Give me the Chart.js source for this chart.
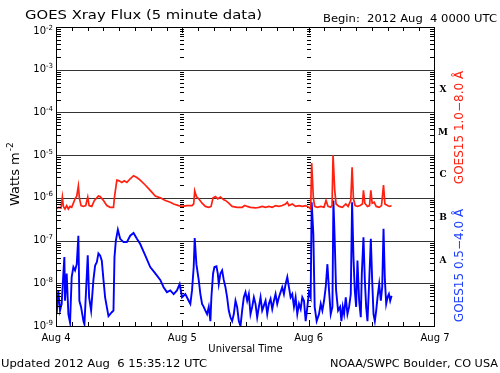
<!DOCTYPE html>
<html>
<head>
<meta charset="utf-8">
<script src="https://cdn.jsdelivr.net/npm/chart.js@4.4.1/dist/chart.umd.min.js"></script>
<style>
  html, body { margin: 0; padding: 0; background: #fff; }
  canvas { display: block; }
</style>
</head>
<body>
<canvas id="xray" width="500" height="373"></canvas>
<script>
// hours since 2012 Aug 4 0000 UT, flux in W m^-2
const longHours = [
  0, 0.44, 0.95, 1.21, 1.4, 1.71, 2.03, 2.35, 2.67, 2.98, 3.3, 3.62, 3.94, 4.25, 4.44, 4.76,
  5.21, 5.65, 6.03, 6.29, 6.79, 7.3, 7.75, 8.06, 8.38, 9.02, 9.65, 10.29, 10.92, 11.11, 11.56,
  12.0, 12.51, 12.95, 13.46, 14.1, 14.73, 15.37, 16.0, 16.95, 17.9, 18.86, 19.81, 20.76, 21.71,
  22.35, 23.3, 23.94, 24.89, 25.84, 26.16, 26.35, 26.67, 27.11, 27.75, 28.38, 29.02, 29.46,
  29.84, 30.29, 30.73, 31.24, 31.87, 32.19, 32.82, 33.46, 34.41, 35.36, 35.87, 36.32, 36.95,
  37.9, 38.54, 39.17, 39.81, 40.44, 41.08, 41.71, 42.35, 42.98, 43.62, 43.94, 44.25, 44.89,
  45.52, 46.16, 46.79, 47.43, 48.06, 48.38, 48.57, 48.89, 49.14, 49.65, 50.29, 50.92, 51.3,
  51.68, 52.19, 52.44, 52.63, 52.95, 53.21, 53.78, 54.41, 55.05, 55.49, 56.0, 56.25, 56.51,
  56.83, 57.27, 57.78, 58.22, 58.41, 58.67, 59.17, 59.56, 59.81, 60.06, 60.44, 60.83, 61.4,
  61.84, 62.22, 62.48, 62.98, 63.37, 63.75
];
const longFlux = [
  5.5e-7, 6.0e-7, 5.8e-7, 1.04e-6, 6.3e-7, 5.5e-7, 6.6e-7, 5.5e-7, 6.3e-7, 6.0e-7, 7.5e-7, 9.5e-7, 1.1e-6, 1.9e-6, 1.0e-6, 6.6e-7,
  6.3e-7, 6.6e-7, 1.04e-6, 6.6e-7, 6.3e-7, 8.7e-7, 1.0e-6, 1.1e-6, 1.07e-6, 8.7e-7, 6.6e-7, 6.0e-7, 6.0e-7, 1.04e-6, 2.6e-6,
  2.5e-6, 2.3e-6, 2.5e-6, 2.3e-6, 2.8e-6, 3.3e-6, 3.0e-6, 2.6e-6, 2.0e-6, 1.5e-6, 1.1e-6, 1.0e-6, 8.7e-7, 7.9e-7,
  7.2e-7, 6.6e-7, 6.3e-7, 6.6e-7, 6.6e-7, 7.2e-7, 1.45e-6, 1.07e-6, 9.5e-7, 7.5e-7, 6.3e-7, 6.0e-7, 6.3e-7,
  1.0e-6, 1.07e-6, 9.5e-7, 1.04e-6, 9.0e-7, 8.7e-7, 7.5e-7, 6.3e-7, 6.0e-7, 6.0e-7, 6.6e-7, 6.3e-7, 6.0e-7,
  5.8e-7, 6.0e-7, 6.3e-7, 6.0e-7, 6.3e-7, 6.0e-7, 6.6e-7, 6.3e-7, 6.6e-7, 7.2e-7, 7.9e-7, 6.6e-7, 7.2e-7,
  6.3e-7, 6.6e-7, 6.3e-7, 6.6e-7, 6.0e-7, 5.5e-7, 6.5e-6, 1.0e-6, 6.3e-7, 6.0e-7, 6.3e-7, 6.0e-7, 8.7e-7,
  6.3e-7, 6.0e-7, 6.6e-7, 1.0e-5, 1.5e-6, 7.2e-7, 6.3e-7, 6.0e-7, 7.2e-7, 6.3e-7, 8.7e-7, 5.2e-6, 9.5e-7,
  6.6e-7, 6.3e-7, 6.6e-7, 7.2e-7, 1.5e-6, 7.5e-7, 6.3e-7, 6.6e-7, 1.5e-6, 7.5e-7, 7.9e-7, 6.3e-7, 6.0e-7,
  6.6e-7, 2.0e-6, 7.2e-7, 6.6e-7, 6.3e-7, 6.6e-7
];

const shortHours = [
  0, 0.13, 0.44, 0.76, 1.08, 1.4, 1.59, 1.71, 2.03, 2.35, 2.67, 2.98, 3.3, 3.62, 3.94, 4.25,
  4.44, 4.76, 5.21, 5.4, 5.65, 6.03, 6.29, 6.67, 7.11, 7.43, 7.75, 8.06, 8.38, 8.7, 9.02, 9.33,
  9.65, 9.97, 10.29, 10.6, 10.92, 11.11, 11.37, 11.75, 12.19, 12.83, 13.46, 14.1, 14.73, 15.37,
  16.0, 16.95, 17.9, 18.86, 19.81, 20.44, 21.08, 21.71, 22.35, 22.98, 23.49, 23.94, 24.57,
  25.21, 25.52, 25.84, 26.16, 26.35, 26.67, 27.11, 27.43, 27.75, 28.06, 28.38, 28.7, 29.02,
  29.33, 29.52, 29.84, 30.1, 30.48, 30.73, 30.92, 31.24, 31.56, 31.87, 32.19, 32.51, 32.82,
  33.14, 33.46, 33.78, 34.1, 34.41, 34.73, 35.05, 35.36, 35.68, 36.0, 36.32, 36.63, 36.95,
  37.27, 37.59, 37.9, 38.22, 38.54, 38.86, 39.17, 39.49, 39.81, 40.13, 40.44, 40.76, 41.08,
  41.4, 41.71, 42.03, 42.35, 42.67, 42.98, 43.3, 43.62, 43.94, 44.25, 44.57, 44.89, 45.21,
  45.52, 45.84, 46.16, 46.48, 46.79, 47.11, 47.43, 47.75, 48.06, 48.38, 48.57, 48.89, 49.14,
  49.52, 49.97, 50.29, 50.6, 50.92, 51.24, 51.56, 51.87, 52.19, 52.51, 52.7, 52.95, 53.21,
  53.59, 53.97, 54.22, 54.48, 54.73, 55.05, 55.37, 55.68, 56.0, 56.25, 56.51, 56.76, 57.02,
  57.27, 57.59, 57.9, 58.1, 58.41, 58.67, 58.92, 59.17, 59.43, 59.81, 60.06, 60.32, 60.57,
  60.83, 61.08, 61.4, 61.71, 61.97, 62.22, 62.48, 62.73, 62.98, 63.24, 63.49, 63.75
];
const shortFlux = [
  2.8e-9, 1.9e-9, 6.8e-9, 2.3e-9, 3.3e-9, 1.7e-8, 4.1e-8, 3.9e-9, 1.7e-8, 1.9e-9, 1.2e-9, 1.4e-8, 2.4e-8, 2.0e-8, 2.8e-8, 1.3e-7,
  3.9e-9, 2.8e-9, 1.3e-9, 1.1e-9, 4.7e-9, 4.5e-8, 4.7e-9, 2.3e-9, 1.2e-8, 2.6e-8, 3.1e-8, 5.0e-8, 4.5e-8, 3.4e-8, 1.2e-8, 4.7e-9,
  2.8e-9, 1.7e-9, 1.9e-9, 2.1e-9, 2.3e-9, 4.1e-8, 1.0e-7, 1.8e-7, 1.1e-7, 9.2e-8, 9.2e-8, 1.3e-7, 1.5e-7, 1.1e-7,
  8.3e-8, 4.5e-8, 2.4e-8, 1.7e-8, 1.2e-8, 8.1e-9, 6.2e-9, 6.8e-9, 5.6e-9, 6.8e-9, 9.6e-9, 4.7e-9, 5.6e-9,
  3.9e-9, 3.3e-9, 6.8e-9, 2.4e-8, 1.15e-7, 2.8e-8, 1.2e-8, 5.6e-9, 3.3e-9, 2.8e-9, 2.3e-9, 1.9e-9, 2.8e-9,
  1.3e-9, 4.7e-9, 1.7e-8, 2.4e-8, 2.5e-8, 1.7e-8, 9.6e-9, 1.7e-8, 2.0e-8, 1.2e-8, 8.1e-9, 4.7e-9, 2.3e-9,
  1.6e-9, 1.3e-9, 1.9e-9, 3.9e-9, 2.8e-9, 1.3e-9, 1.0e-9, 2.3e-9, 4.7e-9, 6.2e-9, 3.9e-9, 5.6e-9, 1.9e-9,
  2.8e-9, 4.7e-9, 3.3e-9, 1.6e-9, 2.8e-9, 4.7e-9, 2.3e-9, 3.0e-9, 3.9e-9, 1.9e-9, 3.3e-9, 4.3e-9, 2.5e-9,
  3.9e-9, 5.6e-9, 3.3e-9, 4.7e-9, 6.2e-9, 8.1e-9, 5.6e-9, 9.6e-9, 1.4e-8, 8.1e-9, 4.7e-9, 5.6e-9, 2.8e-9,
  4.7e-9, 1.9e-9, 3.3e-9, 2.5e-9, 4.7e-9, 3.9e-9, 1.3e-9, 2.8e-9, 6.2e-9, 4.7e-9, 7.9e-7, 1.4e-7, 2.8e-9,
  1.3e-9, 1.9e-9, 3.3e-9, 2.3e-9, 3.9e-9, 8.1e-9, 2.8e-8, 6.8e-9, 1.9e-9, 2.8e-9, 8.7e-7, 1.0e-7, 6.8e-9,
  2.3e-9, 2.8e-9, 1.3e-9, 2.8e-9, 1.9e-9, 4.7e-9, 1.9e-9, 2.8e-9, 5.6e-9, 7.9e-7, 4.1e-8, 6.8e-9, 2.8e-9,
  3.4e-8, 3.9e-9, 1.6e-9, 1.7e-8, 1.2e-7, 1.2e-8, 2.8e-9, 1.3e-9, 6.8e-9, 1.1e-7, 1.2e-8, 1.9e-9, 1.3e-9,
  2.3e-9, 4.7e-9, 9.6e-9, 3.9e-9, 8.1e-9, 1.9e-7, 1.2e-8, 3.3e-9, 4.7e-9, 5.6e-9, 3.9e-9, 5.1e-9
];

const dayLabels = ['Aug 4', 'Aug 5', 'Aug 6', 'Aug 7'];
const decadeExps = [-9, -8, -7, -6, -5, -4, -3, -2];
const flareClasses = ['A', 'B', 'C', 'M', 'X'];
const flareClassExps = [-8, -7, -6, -5, -4];

const FONT = '"DejaVu Sans", sans-serif';
const RED = '#ff2010';
const BLUE = '#0000ff';

const minorValues = [];
for (let e = -9; e < -2; e++) {
  for (let k = 2; k <= 9; k++) minorValues.push(k * Math.pow(10, e));
}

// draw text squeezed/stretched to a given width
const fitText = (ctx, str, left, base, width) => {
  const w = ctx.measureText(str).width;
  ctx.save();
  ctx.translate(left, base);
  ctx.scale(width / w, 1);
  ctx.textAlign = 'left';
  ctx.fillText(str, 0, 0);
  ctx.restore();
};

const goesFrame = {
  id: 'goesFrame',
  beforeDatasetsDraw(chart) {
    const { ctx, chartArea: a, scales: { x, y } } = chart;
    ctx.save();
    ctx.strokeStyle = '#333';
    ctx.lineWidth = 1;
    decadeExps.forEach(e => {
      const py = Math.round(y.getPixelForValue(Math.pow(10, e))) + 0.5;
      ctx.beginPath(); ctx.moveTo(a.left, py); ctx.lineTo(a.right, py); ctx.stroke();
    });
    // day boundaries are marked with the minor tick pattern
    ctx.strokeStyle = '#000';
    [24, 48].forEach(h => {
      const px = Math.round(x.getPixelForValue(h));
      minorValues.forEach(v => {
        const py = Math.round(y.getPixelForValue(v)) + 0.5;
        ctx.beginPath(); ctx.moveTo(px - 2, py); ctx.lineTo(px + 2, py); ctx.stroke();
      });
    });
    ctx.restore();
  },
  afterDraw(chart) {
    const { ctx, chartArea: a, scales: { x, y } } = chart;
    ctx.save();
    ctx.strokeStyle = '#000';
    ctx.lineWidth = 1;
    ctx.strokeRect(Math.round(a.left) + 0.5, Math.round(a.top) + 0.5,
      Math.round(a.right - a.left) - 1, Math.round(a.bottom - a.top));

    // inward minor ticks on the left and right axes
    minorValues.forEach(v => {
      const py = Math.round(y.getPixelForValue(v)) + 0.5;
      ctx.beginPath();
      ctx.moveTo(a.left, py); ctx.lineTo(a.left + 5, py);
      ctx.moveTo(a.right, py); ctx.lineTo(a.right - 5, py);
      ctx.stroke();
    });
    // time ticks every 3 hours, top and bottom
    for (let h = 3; h < 72; h += 3) {
      const px = Math.round(x.getPixelForValue(h)) + 0.5;
      const len = h % 24 === 0 ? 6 : 4;
      ctx.beginPath();
      ctx.moveTo(px, a.bottom); ctx.lineTo(px, a.bottom - len);
      ctx.moveTo(px, a.top); ctx.lineTo(px, a.top + len);
      ctx.stroke();
    }

    // y tick labels 10^n
    ctx.fillStyle = '#000';
    ctx.textBaseline = 'alphabetic';
    decadeExps.forEach(e => {
      const py = y.getPixelForValue(Math.pow(10, e));
      const base = e === -2 ? py + 7 : py + 2.5;
      ctx.font = '7px ' + FONT;
      ctx.textAlign = 'right';
      const sup = '-' + Math.abs(e);
      ctx.fillText(sup, 53, base - 4);
      const sw = ctx.measureText(sup).width;
      ctx.font = '10px ' + FONT;
      ctx.fillText('10', 53 - sw, base);
    });

    // day labels
    ctx.font = '10px ' + FONT;
    ctx.textAlign = 'center';
    dayLabels.forEach((lab, i) => {
      ctx.fillText(lab, x.getPixelForValue(i * 24), 340.5);
    });
    ctx.fillText('Universal Time', 245.5, 352);

    // footer and header
    ctx.textAlign = 'left';
    fitText(ctx, 'Updated 2012 Aug  6 15:35:12 UTC', 1, 367, 206);
    fitText(ctx, 'NOAA/SWPC Boulder, CO USA', 330, 367, 168);
    fitText(ctx, 'Begin:  2012 Aug  4 0000 UTC', 323, 22, 174);
    ctx.font = '13px ' + FONT;
    fitText(ctx, 'GOES Xray Flux (5 minute data)', 25, 19, 237);

    // flare class letters
    ctx.font = 'bold 9px "DejaVu Serif", serif';
    ctx.textAlign = 'center';
    ctx.textBaseline = 'middle';
    flareClasses.forEach((c, i) => {
      const py = y.getPixelForValue(Math.pow(10, flareClassExps[i] + 0.5));
      ctx.fillText(c, 443, py - 1.5);
    });

    // y axis title
    ctx.save();
    ctx.translate(19, 170);
    ctx.rotate(-Math.PI / 2);
    ctx.textBaseline = 'alphabetic';
    ctx.textAlign = 'left';
    ctx.font = '13px ' + FONT;
    const tw = ctx.measureText('Watts m').width;
    ctx.fillText('Watts m', -36, 0);
    ctx.font = '9px ' + FONT;
    ctx.fillText('-2', -36 + tw + 1, -6);
    ctx.restore();

    // channel labels on the right
    ctx.font = '12px ' + FONT;
    ctx.textAlign = 'center';
    ctx.textBaseline = 'middle';
    [['GOES15 1.0\u22128.0 \u00c5', RED, 127.5], ['GOES15 0.5\u22124.0 \u00c5', '#2040ff', 265.5]]
      .forEach(([str, col, cy]) => {
        ctx.save();
        ctx.translate(459.5, cy);
        ctx.rotate(-Math.PI / 2);
        ctx.fillStyle = col;
        ctx.fillText(str, 0, 0);
        ctx.restore();
      });
    ctx.restore();
  }
};

const toPoints = (hours, flux) => hours.map((h, i) => ({ x: h, y: flux[i] }));

new Chart(document.getElementById('xray'), {
  type: 'line',
  data: {
    datasets: [
      { label: 'GOES15 1.0-8.0 A', data: toPoints(longHours, longFlux), borderColor: RED, borderWidth: 1.7 },
      { label: 'GOES15 0.5-4.0 A', data: toPoints(shortHours, shortFlux), borderColor: BLUE, borderWidth: 1.9 }
    ]
  },
  options: {
    responsive: false,
    devicePixelRatio: 1,
    animation: false,
    layout: { padding: { left: 56, right: 65, top: 27, bottom: 47 } },
    elements: { point: { radius: 0 }, line: { tension: 0 } },
    plugins: { legend: { display: false }, tooltip: { enabled: false } },
    scales: {
      x: { type: 'linear', min: 0, max: 72, display: false },
      y: { type: 'logarithmic', min: 1e-9, max: 1e-2, display: false }
    }
  },
  plugins: [goesFrame]
});
</script>
</body>
</html>
